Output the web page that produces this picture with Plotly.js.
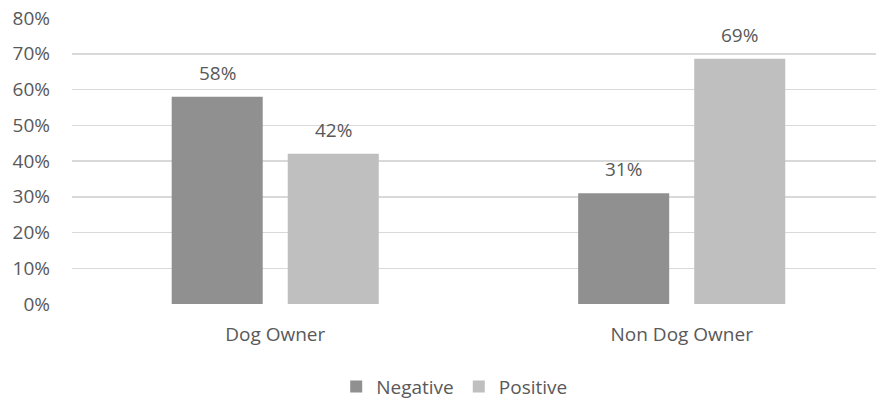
<!DOCTYPE html>
<html><head><meta charset="utf-8">
<script src="https://cdn.plot.ly/plotly-3.0.1.min.js"></script>
<style>html,body{margin:0;padding:0;overflow:hidden;background:#fff}</style>
</head><body><div id="chart" style="width:876px;height:401px"></div>
<script>
const categories = ['Dog Owner', 'Non Dog Owner'];
const negative = [0.58, 0.31];
const positive = [0.42, 0.686];
const seriesNames = ['Negative', 'Positive'];
const tickVals = [0, 0.1, 0.2, 0.3, 0.4, 0.5, 0.6, 0.7, 0.8];
const tickText = ['0%', '10%', '20%', '30%', '40%', '50%', '60%', '70%', '80%'];

const FONT = '"Open Sans", "Noto Sans", sans-serif';
const TXT = '#595959';
const FS = 19;

const traces = [
  {type: 'bar', name: seriesNames[0], x: categories, y: negative, marker: {color: '#909090'}, hoverinfo: 'none'},
  {type: 'bar', name: seriesNames[1], x: categories, y: positive, marker: {color: '#bfbfbf'}, hoverinfo: 'none'}
];

const annotations = [];
[negative, positive].forEach((vals, s) => {
  vals.forEach((v, i) => {
    annotations.push({
      x: categories[i], y: v, xref: 'x', yref: 'y',
      text: Math.round(v * 100) + '%', showarrow: false,
      xanchor: 'center', yanchor: 'bottom',
      xshift: s === 0 ? -58 : 58, yshift: 9,
      font: {family: FONT, size: FS, color: TXT}
    });
  });
});

const layout = {
  width: 876, height: 401,
  margin: {l: 72, r: 0, t: 18, b: 97, pad: 0, autoexpand: false},
  paper_bgcolor: '#fff', plot_bgcolor: '#fff',
  font: {family: FONT, size: FS, color: TXT},
  barmode: 'group', bargap: 0.429, bargroupgap: 0.2155,
  showlegend: true,
  legend: {orientation: 'h', x: 0.476, xanchor: 'center', y: -0.289, yanchor: 'middle',
           font: {family: FONT, size: FS, color: TXT}, itemwidth: 30, traceorder: 'normal'},
  xaxis: {type: 'category', range: [-0.5, 1.478], showgrid: false, zeroline: false, automargin: false,
          showline: false, ticks: '', ticklabelstandoff: 17, tickfont: {family: FONT, size: FS, color: TXT}},
  yaxis: {range: [0, 0.8], tickvals: tickVals, ticktext: tickText, showgrid: true, automargin: false,
          gridcolor: '#d9d9d9', gridwidth: 1.5, zeroline: false, showline: false, ticks: '',
          ticklabelstandoff: 21, tickfont: {family: FONT, size: FS, color: TXT}},
  annotations: annotations
};

Plotly.newPlot('chart', traces, layout, {staticPlot: true, displayModeBar: false});
</script></body></html>
